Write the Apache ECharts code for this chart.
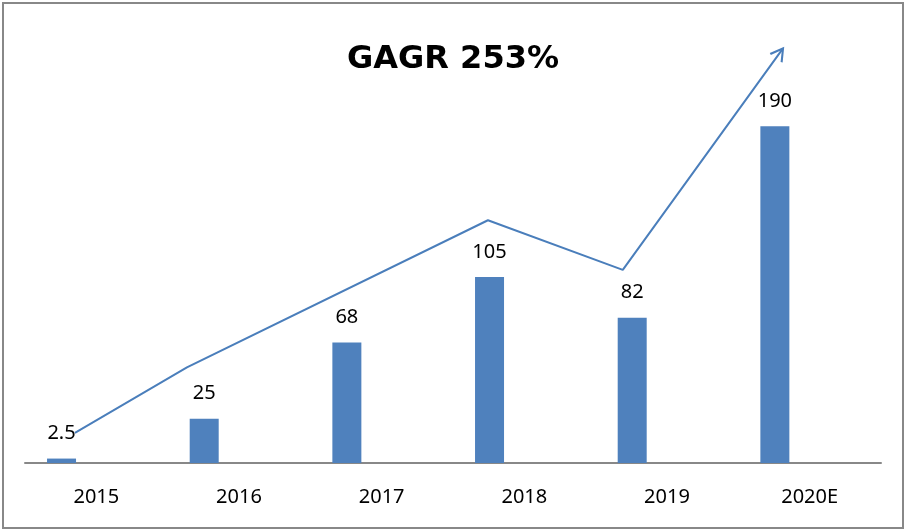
<!DOCTYPE html>
<html>
<head>
<meta charset="utf-8">
<script src="https://cdn.jsdelivr.net/npm/echarts@6/dist/echarts.min.js"></script>
<style>
    html, body { margin: 0; padding: 0; background: #fff; }
    #frame { position: absolute; left: 2px; top: 2px; width: 898px; height: 523px; border: 2px solid #888; }
    #main { position: absolute; left: 0; top: 0; width: 906px; height: 531px; }
</style>
</head>
<body>
<div id="frame"></div>
<div id="main"></div>
<script>
// 数据
var years = ['2015', '2016', '2017', '2018', '2019', '2020E'];
var values = [2.5, 25, 68, 105, 82, 190];

// 趋势箭头折线 (x: 类目位置, y: 数值)
var trendX = [0.35, 1.135, 3.245, 4.19, 5.313];
var trendY = [17, 54, 137, 109, 234];

var lineColor = '#4a7ebb';

var trendData = [];
for (var i = 0; i < trendX.length; i++) {
    var p = { value: [trendX[i], trendY[i]] };
    if (i == trendX.length - 1) {
        // 箭头
        p.symbol = 'path://M0,10 L6,0 L12,10';
        p.symbolSize = [14, 12];
        p.symbolRotate = -36;
        p.symbolOffset = [-3.5, 4.9];
        p.itemStyle = { color: 'rgba(0,0,0,0)', borderColor: lineColor, borderWidth: 2 };
    }
    trendData.push(p);
}

var myChart = echarts.init(document.getElementById('main'));
var option = {
    animation: false,
    title: {
        text: 'GAGR 253%',
        left: 'center',
        top: 35,
        textStyle: {
            fontFamily: 'DejaVu Sans',
            fontWeight: 'bold',
            fontSize: 32,
            lineHeight: 40,
            color: '#000'
        }
    },
    grid: { left: 25, right: 25, top: 20, bottom: 68, containLabel: false },
    xAxis: [{
        type: 'category',
        data: years,
        axisLine: { lineStyle: { color: '#888', width: 2 } },
        axisTick: { show: false },
        axisLabel: {
            margin: 24,
            color: '#000',
            fontFamily: 'Noto Sans',
            fontSize: 20,
            lineHeight: 20
        }
    }, {
        type: 'value',
        min: 0,
        max: 6,
        show: false
    }],
    yAxis: {
        type: 'value',
        min: 0,
        max: 250,
        show: false,
        splitLine: { show: false }
    },
    series: [{
        type: 'bar',
        data: values,
        barWidth: 29,
        barGap: '140%',
        itemStyle: { color: '#4f81bd' },
        label: {
            show: true,
            position: 'top',
            distance: 15,
            color: '#000',
            fontFamily: 'Noto Sans',
            fontSize: 20,
            lineHeight: 20
        }
    }, {
        type: 'bar',
        data: [null, null, null, null, null, null],
        barWidth: 29
    }, {
        type: 'line',
        xAxisIndex: 1,
        data: trendData,
        symbol: 'none',
        showSymbol: true,
        lineStyle: { color: lineColor, width: 2 },
        z: 3
    }]
};
myChart.setOption(option);
</script>
</body>
</html>
